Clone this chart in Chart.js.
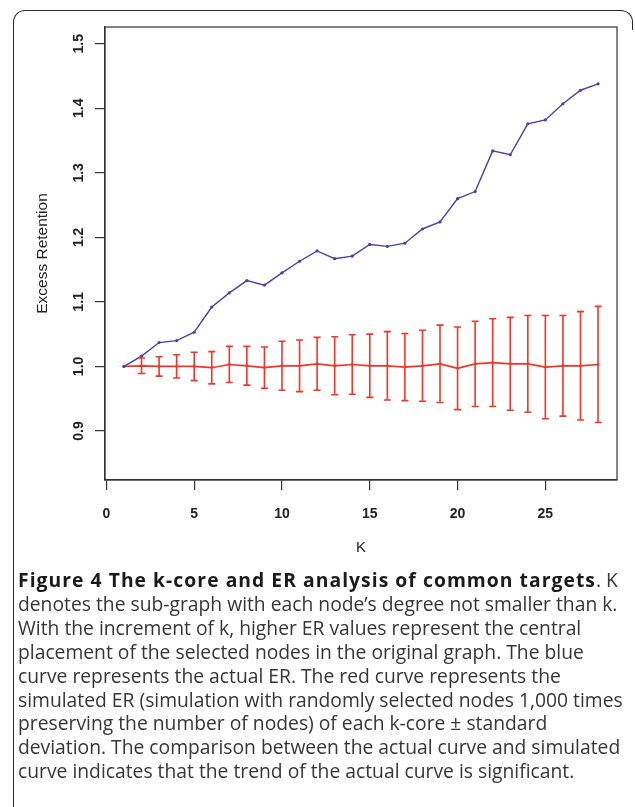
<!DOCTYPE html>
<html>
<head>
<meta charset="utf-8">
<script src="https://cdn.jsdelivr.net/npm/chart.js@4.4.0/dist/chart.umd.min.js"></script>
<style>
  body { margin: 0; background: #fff; width: 635px; height: 807px; overflow: hidden; position: relative; }
  #frame {
    position: absolute; left: 13px; top: 10px; width: 618px; height: 820px;
    border-left: 1.6px solid #2a2a2a; border-top: 1.6px solid #2a2a2a; border-right: 1.6px solid #2a2a2a;
    border-radius: 12px 12px 0 0;
  }
  #cut { position: absolute; left: 626px; top: 30px; width: 12px; height: 800px; background: #fff; }
  #wrap { position: absolute; left: 0; top: 0; width: 635px; height: 570px; }
  #caption {
    position: absolute; left: 18px; top: 568px;
    font-family: "Open Sans", sans-serif; font-size: 19.3px; line-height: 23.9px;
    color: #363636; white-space: nowrap;
  }
  #caption b { color: #1a1a1a; letter-spacing: 1.05px; }
</style>
</head>
<body>
<div id="frame"></div>
<div id="cut"></div>
<div id="wrap"><canvas id="chart" width="635" height="570"></canvas></div>
<div id="caption">
<b>Figure 4 The k-core and ER analysis of common targets</b>. K<br>
denotes the sub-graph with each node’s degree not smaller than k.<br>
With the increment of k, higher ER values represent the central<br>
placement of the selected nodes in the original graph. The blue<br>
curve represents the actual ER. The red curve represents the<br>
simulated ER (simulation with randomly selected nodes 1,000 times<br>
preserving the number of nodes) of each k-core ± standard<br>
deviation. The comparison between the actual curve and simulated<br>
curve indicates that the trend of the actual curve is significant.
</div>
<script>
// k-core levels
const kValues = [1, 2, 3, 4, 5, 6, 7, 8, 9, 10, 11, 12, 13, 14, 15, 16, 17, 18, 19, 20, 21, 22, 23, 24, 25, 26, 27, 28];

// actual ER (blue)
const actualER = [1.000, 1.016, 1.037, 1.040, 1.053, 1.092, 1.114, 1.133, 1.126, 1.145,
                  1.163, 1.179, 1.167, 1.171, 1.189, 1.186, 1.191, 1.213, 1.224, 1.260,
                  1.271, 1.334, 1.328, 1.376, 1.382, 1.407, 1.428, 1.438];

// simulated ER mean and standard deviation (red)
const simMean = [1.000, 1.001, 1.000, 1.000, 1.000, 0.998, 1.003, 1.001, 0.998, 1.001,
                 1.001, 1.004, 1.001, 1.003, 1.001, 1.001, 0.999, 1.001, 1.004, 0.997,
                 1.004, 1.006, 1.004, 1.004, 0.999, 1.001, 1.001, 1.003];
const simSD = [0.000, 0.012, 0.015, 0.018, 0.022, 0.025, 0.028, 0.030, 0.032, 0.038,
               0.040, 0.041, 0.045, 0.046, 0.049, 0.053, 0.052, 0.055, 0.060, 0.064,
               0.066, 0.068, 0.072, 0.075, 0.080, 0.078, 0.084, 0.090];

// axis ticks
const xTicks = [0, 5, 10, 15, 20, 25];
const yTicks = [0.9, 1.0, 1.1, 1.2, 1.3, 1.4, 1.5];
const yTickLabels = ['0.9', '1.0', '1.1', '1.2', '1.3', '1.4', '1.5'];

const axisColor = '#333';
const blue = '#4246a0';
const red = '#f2352a';
const labelFont = '"Liberation Sans", Arial, sans-serif';

// error bars for the simulated curve
const errorBars = {
    id: 'errorBars',
    afterDatasetsDraw(chart) {
        const ctx = chart.ctx;
        const xs = chart.scales.x, ys = chart.scales.y;
        ctx.save();
        ctx.strokeStyle = red;
        ctx.lineWidth = 1.6;
        kValues.forEach((k, i) => {
            if (!simSD[i]) return;
            const x = xs.getPixelForValue(k);
            const yt = ys.getPixelForValue(simMean[i] + simSD[i]);
            const yb = ys.getPixelForValue(simMean[i] - simSD[i]);
            ctx.beginPath();
            ctx.moveTo(x, yt); ctx.lineTo(x, yb);
            ctx.moveTo(x - 3.5, yt); ctx.lineTo(x + 3.5, yt);
            ctx.moveTo(x - 3.5, yb); ctx.lineTo(x + 3.5, yb);
            ctx.stroke();
        });
        ctx.restore();
    }
};

// R-style box and vertical y tick labels
const boxAndLabels = {
    id: 'boxAndLabels',
    afterDraw(chart) {
        const ctx = chart.ctx;
        const a = chart.chartArea;
        const ys = chart.scales.y;
        ctx.save();
        ctx.strokeStyle = axisColor;
        ctx.lineWidth = 1.2;
        ctx.strokeRect(a.left, a.top, a.right - a.left, a.bottom - a.top);
        ctx.fillStyle = '#222';
        ctx.font = 'bold 14px ' + labelFont;
        ctx.textAlign = 'center';
        ctx.textBaseline = 'middle';
        yTicks.forEach((v, i) => {
            const y = ys.getPixelForValue(v);
            ctx.save();
            ctx.translate(79, y);
            ctx.rotate(-Math.PI / 2);
            ctx.fillText(yTickLabels[i], 0, 0);
            ctx.restore();
        });
        ctx.restore();
    }
};

new Chart(document.getElementById('chart'), {
    type: 'line',
    data: {
        datasets: [
            {
                data: kValues.map((k, i) => ({ x: k, y: actualER[i] })),
                borderColor: blue,
                backgroundColor: blue,
                borderWidth: 1.4,
                pointRadius: 1.6,
                pointBorderWidth: 0,
                tension: 0
            },
            {
                data: kValues.map((k, i) => ({ x: k, y: simMean[i] })),
                borderColor: red,
                backgroundColor: red,
                borderWidth: 1.7,
                pointRadius: 1.4,
                pointBorderWidth: 0,
                tension: 0
            }
        ]
    },
    options: {
        responsive: false,
        animation: false,
        layout: { padding: { top: 27, right: 18, left: 0, bottom: 0 } },
        plugins: { legend: { display: false }, tooltip: { enabled: false } },
        scales: {
            x: {
                type: 'linear',
                min: -0.08,
                max: 29.08,
                afterBuildTicks: s => { s.ticks = xTicks.map(v => ({ value: v })); },
                afterFit: s => { s.height = 90; },
                grid: { drawOnChartArea: false, drawTicks: true, tickLength: 10, color: axisColor, lineWidth: 1.2 },
                border: { display: true, color: axisColor, width: 1.2 },
                ticks: {
                    color: '#222',
                    padding: 16,
                    maxRotation: 0,
                    font: { family: labelFont, size: 14, weight: 'bold' }
                },
                title: {
                    display: true,
                    text: 'K',
                    color: '#222',
                    padding: { top: 0, bottom: 13 },
                    font: { family: labelFont, size: 15 }
                }
            },
            y: {
                type: 'linear',
                min: 0.824,
                max: 1.526,
                afterBuildTicks: s => { s.ticks = yTicks.map(v => ({ value: v })); },
                afterFit: s => { s.width = 105; },
                grid: { drawOnChartArea: false, drawTicks: true, tickLength: 10, color: axisColor, lineWidth: 1.2 },
                border: { display: true, color: axisColor, width: 1.2 },
                ticks: { display: false },
                title: {
                    display: true,
                    text: 'Excess Retention',
                    color: '#222',
                    padding: { top: 33, bottom: 0 },
                    font: { family: labelFont, size: 15.5 }
                }
            }
        }
    },
    plugins: [errorBars, boxAndLabels]
});
</script>
</body>
</html>
